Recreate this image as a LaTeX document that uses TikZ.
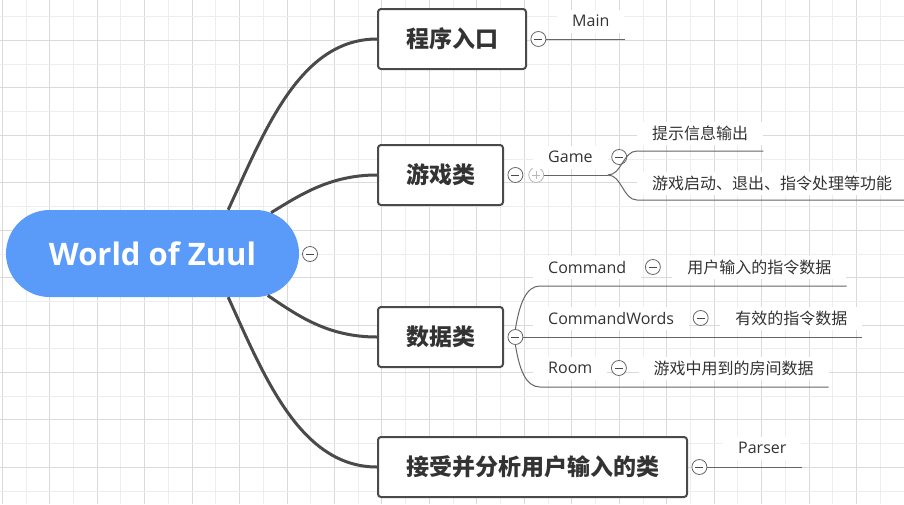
\documentclass[tikz,border=0pt]{standalone}
\usepackage{fontspec}
\setmainfont{Open Sans}
\newfontfamily\cjk{Noto Sans CJK SC}
\usetikzlibrary{shapes.misc, positioning}
\definecolor{ZuulBlue}{HTML}{5A9AF8}
\definecolor{ZuulInk}{HTML}{333333}
\definecolor{ZuulEdge}{HTML}{4A4A4A}
\definecolor{GridMajor}{HTML}{DADADA}
\definecolor{GridMinor}{HTML}{EDEDED}
\tikzstyle{root} = [rounded rectangle, minimum width=293pt, minimum height=87pt, inner sep=0pt, fill=ZuulBlue, text=white, font=\bfseries\fontsize{31}{36}\selectfont]
\tikzstyle{topic} = [rectangle, rounded corners=3pt, draw=ZuulEdge, line width=2pt, fill=white, minimum height=60pt, inner xsep=28pt, text=ZuulInk, font=\cjk\bfseries\fontsize{23}{28}\selectfont, anchor=west]
\tikzstyle{sub} = [rectangle, fill=white, inner xsep=15pt, inner ysep=0pt, minimum height=23pt, text=ZuulInk, font=\fontsize{16}{19}\selectfont]
\tikzstyle{subcn} = [sub, font=\cjk\fontsize{16}{19}\selectfont]
\tikzstyle{fold} = [circle, draw=ZuulEdge!85, line width=0.8pt, fill=white, minimum size=15pt, inner sep=0pt, path picture={\draw[ZuulEdge, line width=0.8pt] ([xshift=3.5pt]path picture bounding box.west) -- ([xshift=-3.5pt]path picture bounding box.east);}]
\tikzstyle{unfold} = [circle, draw=gray!55, line width=0.8pt, fill=white, minimum size=15pt, inner sep=0pt, path picture={\draw[gray!55, line width=0.8pt] ([xshift=3.5pt]path picture bounding box.west) -- ([xshift=-3.5pt]path picture bounding box.east) ([yshift=3.5pt]path picture bounding box.south) -- ([yshift=-3.5pt]path picture bounding box.north);}]
\tikzstyle{stem} = [line width=3pt, draw=ZuulEdge]
\tikzstyle{twig} = [line width=1pt, draw=ZuulEdge!85]

\begin{document}
\begin{tikzpicture}[x=1pt, y=-1pt]
\useasboundingbox (0,0) rectangle (904,504);

% background grid
\fill[white] (0,0) rectangle (904,504);
\foreach \i in {0,...,19} {
  \draw[GridMajor, line width=1pt] ({2.3+47.46*\i},0) -- ++(0,504);
  \draw[GridMinor, line width=1pt] ({26.03+47.46*\i},0) -- ++(0,504);
}
\foreach \j in {0,...,10} {
  \draw[GridMinor, line width=1pt] (0,{16.7+47.46*\j}) -- ++(904,0);
  \draw[GridMajor, line width=1pt] (0,{40.3+47.46*\j}) -- ++(904,0);
}

\node (zuul) [root] at (152.5,253.5) {World of Zuul};
\node (fzuul) [fold] at (310,254) {};

\node (entry) [topic] at (377,39) {程序入口};
\node (game) [topic] at (377,175) {游戏类};
\node (data) [topic] at (377,337) {数据类};
\node (input) [topic] at (377,467) {接受并分析用户输入的类};

\draw [stem] (zuul.30) .. controls (265,130) and (300,39) .. (entry.west);
\draw [stem] (zuul.19) .. controls (300,195) and (330,175) .. (game.west);
\draw [stem] (zuul.-20) .. controls (297,315) and (327,337) .. (data.west);
\draw [stem] (zuul.-30) .. controls (264,376) and (300,467) .. (input.west);

% entry
\node (fentry) [fold, right=3.5pt of entry] {};
\node (main) [sub, anchor=west] at (557,21) {Main};
\draw [twig] (fentry.east) -- (fentry -| main.east);

% game
\node (fgame) [fold, right=3.5pt of game] {};
\node (ugame) [unfold, right=5pt of fgame] {};
\node (gamecls) [sub, anchor=west] at (533,157) {Game};
\node (fgamecls) [fold, right=3.5pt of gamecls] {};
\coordinate (gj) at (gamecls.east |- ugame);
\draw [twig] (ugame.east) -- (gj);

\node (tip) [subcn, anchor=west] at (637,133) {提示信息输出};
\node (ctrl) [subcn, anchor=west] at (637,183) {游戏启动、退出、指令处理等功能};
\coordinate (tipL) at (637,151);
\coordinate (ctrlL) at (637,200);
\draw [twig] (gj) .. controls +(14,0) and +(-14,0) .. (tipL) -- (tipL -| tip.east);
\draw [twig] (gj) .. controls +(14,0) and +(-14,0) .. (ctrlL) -- (ctrlL -| ctrl.east);

% data
\node (fdata) [fold, right=3.5pt of data] {};
\node (cmd) [sub, anchor=west] at (533,267) {Command};
\node (fcmd) [fold, right=3.5pt of cmd] {};
\node (cmdinfo) [subcn, right=11.5pt of fcmd] {用户输入的指令数据};
\node (words) [sub, anchor=west] at (533,318) {CommandWords};
\node (fwords) [fold, right=3.5pt of words] {};
\node (wordsinfo) [subcn, right=11.5pt of fwords] {有效的指令数据};
\node (room) [sub, anchor=west] at (533,368) {Room};
\node (froom) [fold, right=3.5pt of room] {};
\node (roominfo) [subcn, right=11.5pt of froom] {游戏中用到的房间数据};

\coordinate (cmdL) at (540,286);
\coordinate (roomL) at (540,387);
\draw [twig] (fdata.north) .. controls +(4,-25) and +(-14,0) .. (cmdL) -- (cmdL -| cmdinfo.east);
\draw [twig] (fdata.east) -- (fdata -| wordsinfo.east);
\draw [twig] (fdata.south) .. controls +(4,25) and +(-14,0) .. (roomL) -- (roomL -| roominfo.east);

% input
\node (finput) [fold, right=3.5pt of input] {};
\node (parser) [sub, anchor=west] at (723,448) {Parser};
\draw [twig] (finput.east) -- (finput -| parser.east);

\end{tikzpicture}
\end{document}
